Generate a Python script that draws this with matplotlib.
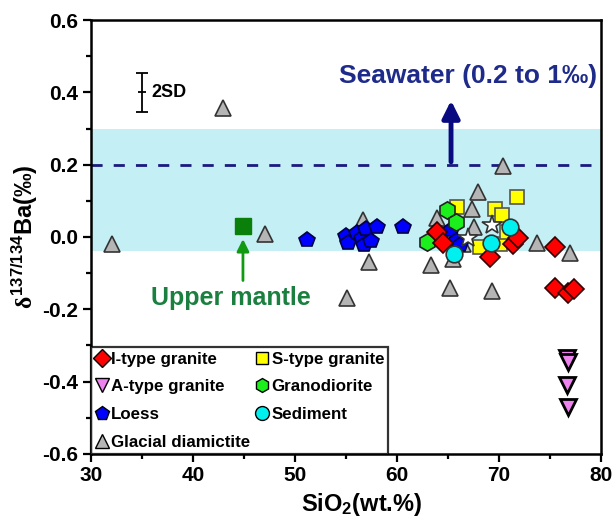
import matplotlib
matplotlib.use("Agg")
import matplotlib.pyplot as plt
from matplotlib.lines import Line2D

plt.rcParams['font.family'] = ['Liberation Sans', 'DejaVu Sans']
plt.rcParams['font.weight'] = 'bold'
plt.rcParams['mathtext.fontset'] = 'custom'
plt.rcParams['mathtext.rm'] = 'Liberation Sans:bold'
plt.rcParams['mathtext.bf'] = 'Liberation Sans:bold'
plt.rcParams['mathtext.it'] = 'Liberation Serif'
plt.rcParams['mathtext.default'] = 'regular'

# ---- data ----
glacial_x = [32.1, 42.9, 47.1, 56.7, 57.3, 55.1, 63.9, 63.3, 65.2, 65.5, 67.4, 67.9, 67.6, 69.3, 70.4, 73.7, 77.0, 66.5]
glacial_y = [-0.02, 0.357, 0.008, 0.047, -0.07, -0.17, 0.053, -0.077, -0.14, -0.06, 0.077, 0.124, 0.028, -0.15, 0.196, -0.017, -0.045, -0.02]

loess_x = [51.2, 55.0, 55.2, 56.1, 56.6, 56.8, 57.0, 57.5, 58.0, 60.6, 65.3, 65.8, 66.2]
loess_y = [-0.008, 0.004, -0.016, 0.012, -0.003, -0.022, 0.022, -0.012, 0.028, 0.028, 0.02, -0.012, -0.022]

s_type_x = [65.9, 69.6, 70.3, 71.8, 68.1, 70.1, 70.8]
s_type_y = [0.083, 0.077, 0.06, 0.11, -0.027, -0.02, 0.014]

grano_x = [64.9, 65.8, 62.9]
grano_y = [0.075, 0.042, -0.014]

i_type_x = [63.9, 64.5, 69.1, 71.4, 71.9, 75.5, 75.5, 76.8, 77.4]
i_type_y = [0.014, -0.017, -0.055, -0.02, -0.003, -0.027, -0.14, -0.155, -0.145]

sediment_x = [71.1, 69.2, 65.6]
sediment_y = [0.028, -0.017, -0.047]

star_x = [69.3, 67.0]
star_y = [0.033, -0.003]

a_type_x = [76.7, 76.8, 76.7, 76.8]
a_type_y = [-0.335, -0.345, -0.41, -0.47]

mantle_x = [44.9]
mantle_y = [0.03]

seawater_band = (-0.04, 0.3)
seawater_line = 0.2

xticks = [30, 40, 50, 60, 70, 80]
yticks = [-0.6, -0.4, -0.2, 0.0, 0.2, 0.4, 0.6]

# ---- figure ----
fig = plt.figure(figsize=(6.16, 5.17), dpi=100)
ax = fig.add_axes([0.1477, 0.1219, 0.8279, 0.8394])

ax.axhspan(seawater_band[0], seawater_band[1], color='#c4eff4', zorder=0, lw=0)
ax.axhline(seawater_line, color='#1a1a80', lw=2, dashes=(4, 4), zorder=1)

ms = 11
kw = dict(linestyle='none', markeredgewidth=1.2, zorder=3)
ax.plot(glacial_x, glacial_y, marker='^', color='#b5b5b5', mec='#333333', ms=ms + 0.5, **kw)
ax.plot(loess_x, loess_y, marker='p', color='#0000ff', mec='#000044', ms=ms + 0.5, **kw)
ax.plot(s_type_x, s_type_y, marker='s', color='#ffff00', mec='#555555', ms=ms - 0.5, **kw)
ax.plot(grano_x, grano_y, marker='h', color='#1cf01c', mec='#222222', ms=ms + 1.5, **kw)
ax.plot(i_type_x, i_type_y, marker='D', color='#ff0000', mec='#330000', ms=ms - 0.5, **kw)
ax.plot(sediment_x, sediment_y, marker='o', color='#00f0f0', mec='#333333', ms=ms + 1, **kw)
ax.plot(star_x, star_y, marker='*', color='white', mec='#333333', ms=ms + 4, **kw)
ax.plot(a_type_x, a_type_y, marker='v', color='#ee82ee', mec='black', ms=ms + 1, markeredgewidth=2,
        linestyle='none', zorder=3)
ax.plot(mantle_x, mantle_y, marker='s', color='#0a800a', mec='#0a800a', ms=ms + 1, linestyle='none', zorder=3)

# annotations
ax.annotate('', xy=(mantle_x[0], mantle_y[0] - 0.028), xytext=(mantle_x[0], -0.128),
            arrowprops=dict(arrowstyle='-|>', color='#119a11', lw=2, mutation_scale=18))
ax.text(43.7, -0.168, 'Upper mantle', color='#1a7f3f', fontsize=18, fontweight='bold',
        ha='center', va='center')
ax.annotate('', xy=(65.3, 0.385), xytext=(65.3, 0.2),
            arrowprops=dict(arrowstyle='-|>', color='#0a0a80', lw=3.5, mutation_scale=26))
ax.text(67.0, 0.445, 'Seawater (0.2 to 1‰)', color='#1e2b8a', fontsize=19, fontweight='bold',
        ha='center', va='center')
ax.errorbar([35.0], [0.40], yerr=[0.054], color='black', capsize=4, lw=1.3, capthick=1.3,
            marker='_', ms=6, mew=1.3)
ax.text(35.9, 0.40, '2SD', fontsize=13, fontweight='bold', va='center', ha='left')

ax.set_xlim(30, 80)
ax.set_ylim(-0.6, 0.6)
ax.set_xticks(xticks)
ax.set_yticks(yticks)
ax.set_xticklabels([str(v) for v in xticks])
ax.set_yticklabels([f'{v:.1f}' for v in yticks])
ax.set_xticks([35, 45, 55, 65, 75], minor=True)
ax.set_yticks([-0.5, -0.3, -0.1, 0.1, 0.3, 0.5], minor=True)
ax.tick_params(which='major', direction='out', length=6, width=1.6, labelsize=15, pad=3)
ax.tick_params(which='minor', direction='out', length=3.5, width=1.6)
for lab in ax.get_xticklabels() + ax.get_yticklabels():
    lab.set_fontweight('bold')
for sp in ax.spines.values():
    sp.set_linewidth(1.8)

ax.set_xlabel('SiO$_2$(wt.%)', fontsize=17, fontweight='bold', labelpad=4)
ax.xaxis.set_label_coords(0.531, -0.085)
ax.set_ylabel(r'$\mathit{\delta}^{137/134}$Ba(‰)', fontsize=17, fontweight='bold', labelpad=2)

handles = [
    Line2D([], [], marker='D', color='#ff0000', mec='black', ms=9, ls='none'),
    Line2D([], [], marker='v', color='#ee82ee', mec='black', ms=10, ls='none'),
    Line2D([], [], marker='p', color='#0000ff', mec='black', ms=10, ls='none'),
    Line2D([], [], marker='^', color='#b5b5b5', mec='black', ms=10, ls='none'),
    Line2D([], [], marker='s', color='#ffff00', mec='black', ms=9, ls='none'),
    Line2D([], [], marker='h', color='#1cf01c', mec='black', ms=10, ls='none'),
    Line2D([], [], marker='o', color='#00f0f0', mec='black', ms=10, ls='none'),
]
labels = ['I-type granite', 'A-type granite', 'Loess', 'Glacial diamictite',
          'S-type granite', 'Granodiorite', 'Sediment']
leg = ax.legend(handles, labels, ncol=2, loc='lower left', bbox_to_anchor=(0, 0),
                frameon=True, fancybox=False, edgecolor='black',
                prop={'weight': 'bold', 'size': 12.2},
                handlelength=0.8, handletextpad=0.15,
                columnspacing=0.3, labelspacing=0.75, borderpad=0.25, borderaxespad=0)
leg.get_frame().set_linewidth(1.6)

fig.savefig('out.png', dpi=100)
